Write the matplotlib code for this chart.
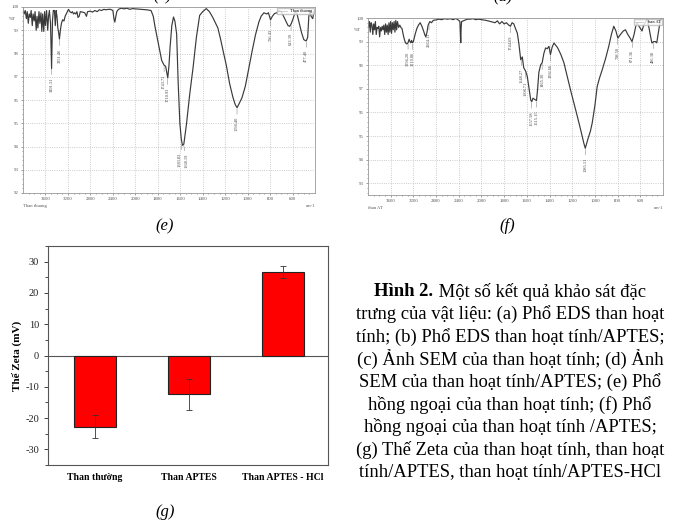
import numpy as np
import matplotlib
matplotlib.use('Agg')
import matplotlib.pyplot as plt
from matplotlib.ticker import MultipleLocator, FixedLocator

# ---- IR spectrum (e): than thuong ----
e_wn = [4000, 3980, 3960, 3940, 3925, 3905, 3890, 3870, 3855, 3835, 3820, 3800, 3785, 3765, 3750,
        3735, 3715, 3700, 3680, 3665, 3650, 3630, 3615, 3600, 3580, 3560, 3545, 3530, 3510, 3491,
        3475, 3460, 3440, 3425, 3410, 3395, 3380, 3365, 3351, 3335, 3315, 3295, 3270, 3250, 3220,
        3190, 3165, 3140, 3120, 3100, 3080, 3060, 3040, 3020, 3000, 2980, 2940, 2900, 2870, 2850,
        2800, 2760, 2720, 2680, 2640, 2600, 2560, 2520, 2480, 2440, 2400, 2380, 2365, 2350, 2330,
        2300, 2250, 2200, 2150, 2100, 2050, 2000, 1950, 1900, 1860, 1840, 1824, 1794, 1765, 1744,
        1730, 1711, 1700, 1690, 1675, 1660, 1648, 1632, 1618, 1603, 1590, 1580, 1568, 1544, 1515,
        1485, 1456, 1427, 1400, 1368, 1340, 1310, 1290, 1265, 1240, 1220, 1190, 1160, 1130, 1110,
        1094, 1075, 1050, 1020, 990, 960, 930, 900, 880, 855, 830, 815, 796, 780, 760, 740, 720,
        700, 680, 660, 640, 625, 610, 595, 575, 560, 540, 520, 500, 485, 477, 465, 455, 445, 435,
        420, 410]
e_T = [99.9, 99.7, 99.85, 99.5, 99.8, 99.3, 99.7, 99.55, 99.85, 99.2, 99.7, 99.4, 99.8, 99.0, 99.6,
       99.1, 99.8, 99.3, 99.75, 98.95, 99.7, 98.95, 99.8, 99.2, 99.85, 99.0, 99.6, 99.85, 99.3, 97.35,
       99.4, 99.85, 99.85, 99.2, 99.85, 99.6, 99.1, 98.9, 98.62, 99.0, 99.3, 99.45, 99.4, 99.6, 99.75,
       99.9, 99.8, 99.75, 99.8, 99.7, 99.75, 99.7, 99.8, 99.55, 99.6, 99.8, 99.78, 99.75, 99.6, 99.8,
       99.82, 99.78, 99.85, 99.8, 99.88, 99.85, 99.9, 99.88, 99.9, 99.9, 99.85, 99.5, 99.35, 99.55, 99.8,
       99.9, 99.95, 99.92, 99.95, 99.9, 99.93, 99.92, 99.9, 99.88, 99.85, 99.6, 99.14, 98.42, 97.7, 97.5,
       97.45, 96.95, 97.5, 98.3, 99.2, 99.57, 99.4, 98.85, 96.7, 94.98, 94.3, 94.05, 94.1, 94.98, 96.27,
       97.42, 98.7, 99.64, 99.8, 99.93, 99.8, 99.55, 99.35, 99.1, 98.6, 98.15, 97.5, 96.7, 96.1, 95.8,
       95.67, 95.85, 96.1, 96.6, 97.35, 98.1, 98.8, 99.35, 99.6, 99.75, 99.7, 99.75, 99.45, 99.6, 99.72,
       99.75, 99.85, 99.8, 99.6, 99.4, 99.2, 99.17, 99.3, 99.5, 99.8, 99.7, 99.3, 98.9, 98.6, 98.55,
       98.55, 98.7, 99.6, 99.85, 99.6, 99.5, 99.8]
e_peaks = [3491.31, 3351.46, 1743.72, 1710.93, 1583.83, 1568.19, 1094.40, 796.43, 613.39, 477.40]

# ---- IR spectrum (f): than AT ----
f_wn = [4010, 3990, 3975, 3960, 3945, 3930, 3915, 3900, 3885, 3870, 3855, 3840, 3825, 3810, 3795,
        3780, 3765, 3750, 3735, 3720, 3705, 3690, 3675, 3660, 3645, 3630, 3615, 3600, 3585, 3570,
        3555, 3540, 3525, 3510, 3495, 3480, 3460, 3440, 3420, 3400, 3380, 3360, 3340, 3317, 3295,
        3275, 3260, 3247, 3230, 3219, 3200, 3170, 3140, 3110, 3080, 3050, 3020, 3000, 2982, 2960,
        2940, 2910, 2880, 2850, 2800, 2750, 2700, 2650, 2600, 2550, 2500, 2450, 2400, 2380, 2370,
        2365, 2358, 2350, 2300, 2250, 2200, 2150, 2100, 2050, 2000, 1960, 1920, 1880, 1860, 1840,
        1820, 1800, 1780, 1760, 1745, 1730, 1715, 1700, 1684, 1670, 1654, 1640, 1628, 1610, 1596,
        1580, 1566, 1557, 1546, 1530, 1515, 1505, 1494, 1478, 1465, 1450, 1435, 1420, 1405, 1392,
        1378, 1361, 1330, 1300, 1273, 1245, 1215, 1185, 1156, 1125, 1098, 1085, 1060, 1040, 1024,
        1000, 980, 960, 936, 905, 878, 855, 834, 815, 798, 775, 750, 731, 710, 690, 673, 655, 640,
        629, 605, 585, 570, 556, 540, 520, 505, 497, 482, 468, 455, 440, 424, 410]
f_T = [99.9, 99.6, 99.85, 99.4, 99.8, 99.7, 99.3, 99.75, 99.5, 99.85, 99.3, 99.6, 99.55, 99.65, 99.2,
       99.6, 99.45, 99.65, 99.5, 99.7, 99.3, 99.75, 99.4, 99.7, 99.3, 99.8, 99.4, 99.85, 99.35, 99.8,
       99.5, 99.85, 99.4, 99.9, 99.5, 99.85, 99.6, 99.7, 99.6, 99.55, 99.3, 99.1, 98.95, 98.9, 98.95,
       99.1, 99.0, 98.95, 99.05, 98.95, 99.0, 99.3, 99.55, 99.7, 99.8, 99.65, 99.45, 99.3, 99.2, 99.4,
       99.7, 99.85, 99.8, 99.9, 99.92, 99.95, 99.93, 99.97, 99.95, 99.97, 99.93, 99.98, 99.9, 99.85, 99.2,
       98.95, 99.6, 99.85, 99.9, 99.95, 99.95, 99.97, 99.93, 99.95, 99.93, 99.9, 99.85, 99.8, 99.88, 99.75,
       99.85, 99.75, 99.8, 99.7, 99.65, 99.8, 99.75, 99.55, 99.36, 98.9, 98.23, 98.35, 97.9, 97.74, 97.52,
       97.0, 96.53, 96.45, 96.6, 96.55, 96.5, 97.0, 97.7, 98.02, 98.1, 98.5, 98.73, 98.7, 98.8, 98.45,
       98.75, 98.94, 98.75, 98.45, 98.1, 97.55, 96.95, 96.4, 95.85, 95.25, 94.7, 94.48, 94.9, 95.2, 95.55,
       96.3, 97.1, 97.45, 97.8, 98.3, 98.8, 99.3, 99.65, 99.45, 99.15, 99.3, 99.45, 99.5, 99.3, 99.15,
       99.0, 99.3, 99.65, 99.8, 99.6, 99.45, 99.7, 99.8, 99.95, 99.5, 99.1, 98.94, 99.0, 99.0, 98.95,
       99.4, 99.9, 100.0]
f_peaks = [3294.20, 3219.06, 2924.11, 1744.69, 1648.27, 1608.71, 1557.58, 1515.15, 1465.30,
           1392.66, 1085.11, 798.50, 671.36, 486.38]

# ---- zeta potential (g) ----
zeta_names = ['Than thường', 'Than APTES', 'Than APTES - HCl']
zeta_vals = [-22.7, -12.4, 26.7]
zeta_err = [3.7, 5.0, 1.9]

caption_bold = 'Hình 2.'
caption_lines = [' Một số kết quả khảo sát đặc',
                 'trưng của vật liệu: (a) Phổ EDS than hoạt',
                 'tính; (b) Phổ EDS than hoạt tính/APTES;',
                 '(c) Ảnh SEM của than hoạt tính; (d) Ảnh',
                 'SEM của than hoạt tính/APTES; (e) Phổ',
                 'hồng ngoại của than hoạt tính; (f) Phổ',
                 'hồng ngoại của than hoạt tính /APTES;',
                 '(g) Thế Zeta của than hoạt tính, than hoạt',
                 'tính/APTES, than hoạt tính/APTES-HCl']

SERIF = 'Liberation Serif'


def fwd(x):
    x = np.asarray(x, dtype=float)
    return np.where(x > 2000, 2000 + (x - 2000) / 2.0, x)


def inv(u):
    u = np.asarray(u, dtype=float)
    return np.where(u > 2000, 2000 + (u - 2000) * 2.0, u)


def ir_panel(ax, wn, T, peaks, name, ybot, ytop):
    ax.set_xscale('function', functions=(fwd, inv))
    ax.plot(wn, T, color='#3a3a3a', lw=0.85)
    ax.set_xlim(4000, 400)
    ax.set_ylim(ybot, ytop)
    ax.xaxis.set_major_locator(FixedLocator([3600, 3200, 2800, 2400, 2000, 1800, 1600, 1400,
                                             1200, 1000, 800, 600]))
    ax.xaxis.set_minor_locator(FixedLocator(list(range(3900, 2000, -100)) +
                                            list(range(1950, 400, -50))))
    ax.yaxis.set_major_locator(MultipleLocator(1))
    ax.yaxis.set_minor_locator(MultipleLocator(0.2))
    ax.grid(True, which='major', ls=':', color='#bbbbbb', lw=0.6)
    ax.tick_params(which='both', labelsize=3.5, colors='#555555', length=1.5, width=0.4, pad=1.5)
    ax.tick_params(which='minor', length=1)
    for s in ax.spines.values():
        s.set_color('#999999')
        s.set_linewidth(0.6)
    ax.text(-0.035, 1 - 0.5 / (ytop - ybot), '%T', transform=ax.transAxes,
            fontsize=3.5, color='#555555', ha='center', va='center')
    ax.text(0.0, -0.06, name, transform=ax.transAxes, fontsize=3.3, color='#555555',
            ha='left', va='top')
    ax.text(1.0, -0.06, 'cm-1', transform=ax.transAxes, fontsize=3.3, color='#555555',
            ha='right', va='top')
    ax.legend([plt.Line2D([], [], color='#bbbbbb', lw=0.5)], [name], loc='upper right',
              fontsize=3.2, frameon=True, handlelength=2, borderpad=0.2,
              borderaxespad=0.3, fancybox=False, edgecolor='#bbbbbb')
    u = fwd(peaks)
    for i, p in enumerate(peaks):
        t = np.interp(p, wn[::-1], T[::-1])
        dx = 0.0
        # spread labels of peaks that sit close together
        if i + 1 < len(peaks) and abs(u[i] - u[i + 1]) < 30:
            dx = -1.8
        elif i > 0 and abs(u[i] - u[i - 1]) < 30:
            dx = 1.8
        ax.annotate('%.2f' % p, xy=(p, t - 0.05), xytext=(dx, -6), textcoords='offset points',
                    rotation=90, ha='center', va='top', fontsize=3.2, color='#444444',
                    arrowprops=dict(arrowstyle='-', lw=0.3, color='#666666',
                                    shrinkA=0, shrinkB=0))


plt.rcParams['font.family'] = [SERIF, 'DejaVu Serif']
plt.rcParams['axes.unicode_minus'] = False
fig = plt.figure(figsize=(6.84, 5.28), dpi=100)

ax_e = fig.add_axes([23 / 684, 1 - 193 / 528, 292 / 684, 186 / 528])
ir_panel(ax_e, e_wn, e_T, e_peaks, 'Than thuong', 92, 100)
ax_f = fig.add_axes([368 / 684, 1 - 195 / 528, 295 / 684, 177 / 528])
ir_panel(ax_f, f_wn, f_T, f_peaks, 'than AT', 92.5, 100)

# zeta bar chart
ax_g = fig.add_axes([48 / 684, 1 - 465 / 528, 280 / 684, 219 / 528])
xs = np.arange(1, len(zeta_vals) + 1)
ax_g.bar(xs, zeta_vals, width=0.45, color='#ff0000', edgecolor='#222222', lw=0.8, zorder=2)
ax_g.errorbar(xs, zeta_vals, yerr=zeta_err, fmt='none', ecolor='#333333', elinewidth=0.6,
              capsize=2, capthick=0.6, zorder=3)
ax_g.axhline(0, color='#555555', lw=0.8, zorder=1)
ax_g.set_xlim(0.5, 3.48)
ax_g.set_ylim(-35, 35)
ax_g.set_xticks(xs)
ax_g.set_xticklabels(zeta_names, fontsize=7, fontweight='bold')
ax_g.yaxis.set_major_locator(MultipleLocator(10))
ax_g.yaxis.set_minor_locator(MultipleLocator(5))
ax_g.tick_params(axis='x', length=0, pad=6)
ax_g.tick_params(axis='y', labelsize=7.5, length=3, width=0.6, colors='#222222')
ax_g.tick_params(axis='y', which='minor', length=2, width=0.5)
ax_g.set_ylabel('Thế Zeta (mV)', fontsize=8, fontweight='bold', labelpad=2)
for s in ax_g.spines.values():
    s.set_color('#555555')
    s.set_linewidth(0.8)

# panel letters
fig.text(165 / 684, 1 - 226 / 528, '(e)', fontsize=12, style='italic', ha='center', va='center')
fig.text(507 / 684, 1 - 226 / 528, '(f)', fontsize=12, style='italic', ha='center', va='center')
fig.text(165 / 684, 1 - 512 / 528, '(g)', fontsize=12, style='italic', ha='center', va='center')
# letters of the panels above, cut by the top edge as in the source page
fig.text(163 / 684, 1 - 0.5 / 528, '(c)', fontsize=12, style='italic', ha='center', va='baseline')
fig.text(503 / 684, 1 - 0.5 / 528, '(d)', fontsize=12, style='italic', ha='center', va='baseline')

# caption
cap_size = 13.4
cx = 510
line_h = 22.5
y0 = 292
fig.canvas.draw()
r = fig.canvas.get_renderer()
tb = fig.text(0, 1 - y0 / 528, caption_bold, fontsize=cap_size, fontweight='bold', va='center')
tn = fig.text(0, 1 - y0 / 528, caption_lines[0], fontsize=cap_size, va='center')
wb = tb.get_window_extent(r).width
wn_ = tn.get_window_extent(r).width
start = cx - (wb + wn_) / 2
tb.set_x(start / 684)
tn.set_x((start + wb) / 684)
for i, line in enumerate(caption_lines[1:], start=1):
    fig.text(cx / 684, 1 - (y0 + i * line_h) / 528, line, fontsize=cap_size,
             ha='center', va='center')

fig.savefig('out.png', dpi=100)
